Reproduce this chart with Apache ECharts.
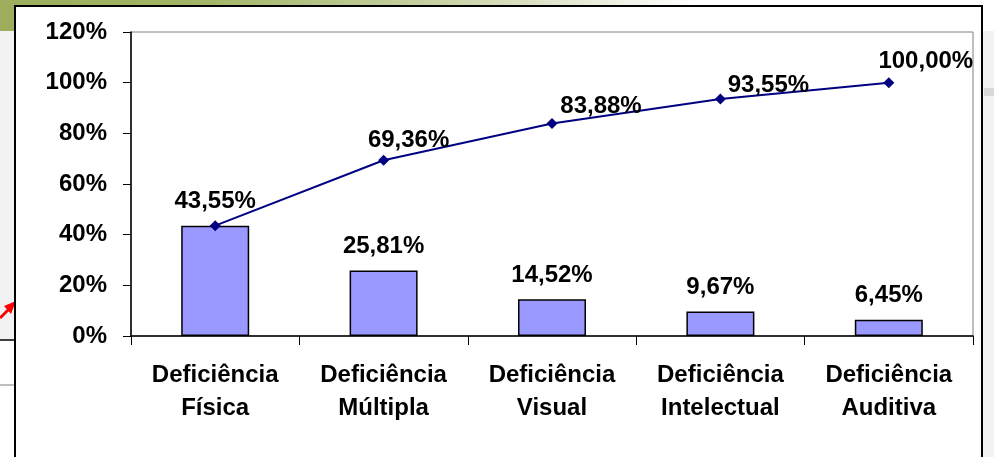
<!DOCTYPE html>
<html>
<head>
<meta charset="utf-8">
<script src="https://cdn.jsdelivr.net/npm/echarts@6/dist/echarts.min.js"></script>
<style>
  html, body { margin: 0; padding: 0; background: #fff; }
  #chart { width: 994px; height: 457px; }
</style>
</head>
<body>
<div id="chart"></div>
<script>
// dados do gráfico
const categories = ['Deficiência\nFísica', 'Deficiência\nMúltipla', 'Deficiência\nVisual', 'Deficiência\nIntelectual', 'Deficiência\nAuditiva'];
const percentValues = [43.55, 25.81, 14.52, 9.67, 6.45];
const cumulativeValues = [43.55, 69.36, 83.88, 93.55, 100.00];
const yMin = 0, yMax = 120, yStep = 20;

const FONT = '"Liberation Sans", Arial, sans-serif';
const fmt = v => v.toFixed(2).replace('.', ',') + '%';

// deslocamento dos rótulos da linha (o primeiro fica escondido, o da barra já mostra)
const lineLabelOffsets = [[0, 0], [25, -20], [49, -17], [48, -14], [37, -21]];

let myChart = echarts.init(document.getElementById('chart'));

myChart.setOption({
  animation: false,
  backgroundColor: '#fff',
  textStyle: { fontFamily: FONT },
  graphic: [
    // fundo do slide
    { type: 'rect', z: -10, shape: { x: 0, y: 0, width: 994, height: 457 }, style: { fill: '#f2f2f2' } },
    {
      type: 'rect', z: -9, shape: { x: 0, y: 0, width: 994, height: 31 },
      style: {
        fill: new echarts.graphic.LinearGradient(0, 0, 1, 0, [
          { offset: 0, color: '#9cae5c' },
          { offset: 0.2, color: '#a3b466' },
          { offset: 0.45, color: '#c9d3a6' },
          { offset: 0.7, color: '#ffffff' },
          { offset: 1, color: '#ffffff' }
        ])
      }
    },
    { type: 'rect', z: -9, shape: { x: 0, y: 340, width: 15, height: 117 }, style: { fill: '#ffffff' } },
    { type: 'line', z: -8, shape: { x1: 0, y1: 340, x2: 15, y2: 340 }, style: { stroke: '#000', lineWidth: 1.5 } },
    { type: 'line', z: -8, shape: { x1: 0, y1: 385, x2: 15, y2: 385 }, style: { stroke: '#aaaaaa', lineWidth: 1.5 } },
    { type: 'line', z: -8, shape: { x1: 0, y1: 318, x2: 10, y2: 308 }, style: { stroke: '#ff0000', lineWidth: 3 } },
    { type: 'polygon', z: -8, shape: { points: [[16, 301], [4, 306], [11, 314]] }, style: { fill: '#ff0000' } },
    { type: 'rect', z: -9, shape: { x: 984, y: 88, width: 10, height: 8 }, style: { fill: '#d8d8d8' } },
    // moldura do gráfico
    { type: 'rect', z: -7, shape: { x: 15, y: 6, width: 967, height: 460 }, style: { fill: '#ffffff', stroke: '#000', lineWidth: 2 } }
  ],
  grid: {
    left: 131,
    right: 21,
    top: 32,
    bottom: 121,
    show: true,
    borderColor: '#808080',
    borderWidth: 1
  },
  xAxis: {
    type: 'category',
    data: categories,
    boundaryGap: true,
    axisLine: { lineStyle: { color: '#000', width: 1.5 } },
    axisTick: { show: true, alignWithLabel: false, length: 9, lineStyle: { color: '#000', width: 1 } },
    axisLabel: {
      interval: 0,
      margin: 23,
      color: '#000',
      fontWeight: 'bold',
      fontSize: 24,
      lineHeight: 33,
      fontFamily: FONT
    },
    splitLine: { show: false }
  },
  yAxis: {
    type: 'value',
    min: yMin,
    max: yMax,
    interval: yStep,
    axisLine: { show: true, lineStyle: { color: '#000', width: 1.5 } },
    axisTick: { show: true, length: 8, lineStyle: { color: '#000', width: 1 } },
    axisLabel: {
      margin: 24,
      color: '#000',
      fontWeight: 'bold',
      fontSize: 24,
      fontFamily: FONT,
      formatter: '{value}%'
    },
    splitLine: { show: false }
  },
  series: [
    {
      name: 'Percentual',
      type: 'bar',
      barWidth: 68,
      data: percentValues,
      itemStyle: { color: '#9999ff', borderColor: '#000', borderWidth: 1.5 },
      label: {
        show: true,
        position: 'top',
        distance: 12,
        color: '#000',
        fontWeight: 'bold',
        fontSize: 24,
        fontFamily: FONT,
        formatter: p => fmt(p.value)
      },
      z: 2
    },
    {
      name: 'Acumulado',
      type: 'line',
      data: cumulativeValues.map((v, i) => ({
        value: v,
        label: { show: i > 0, offset: lineLabelOffsets[i] }
      })),
      symbol: 'diamond',
      symbolSize: 11,
      lineStyle: { color: '#000080', width: 2 },
      itemStyle: { color: '#000080' },
      label: {
        show: true,
        position: 'inside',
        color: '#000',
        fontWeight: 'bold',
        fontSize: 24,
        fontFamily: FONT,
        formatter: p => fmt(p.value)
      },
      z: 3
    }
  ]
});

window.addEventListener('resize', () => {
  myChart.resize();
});
</script>
</body>
</html>
